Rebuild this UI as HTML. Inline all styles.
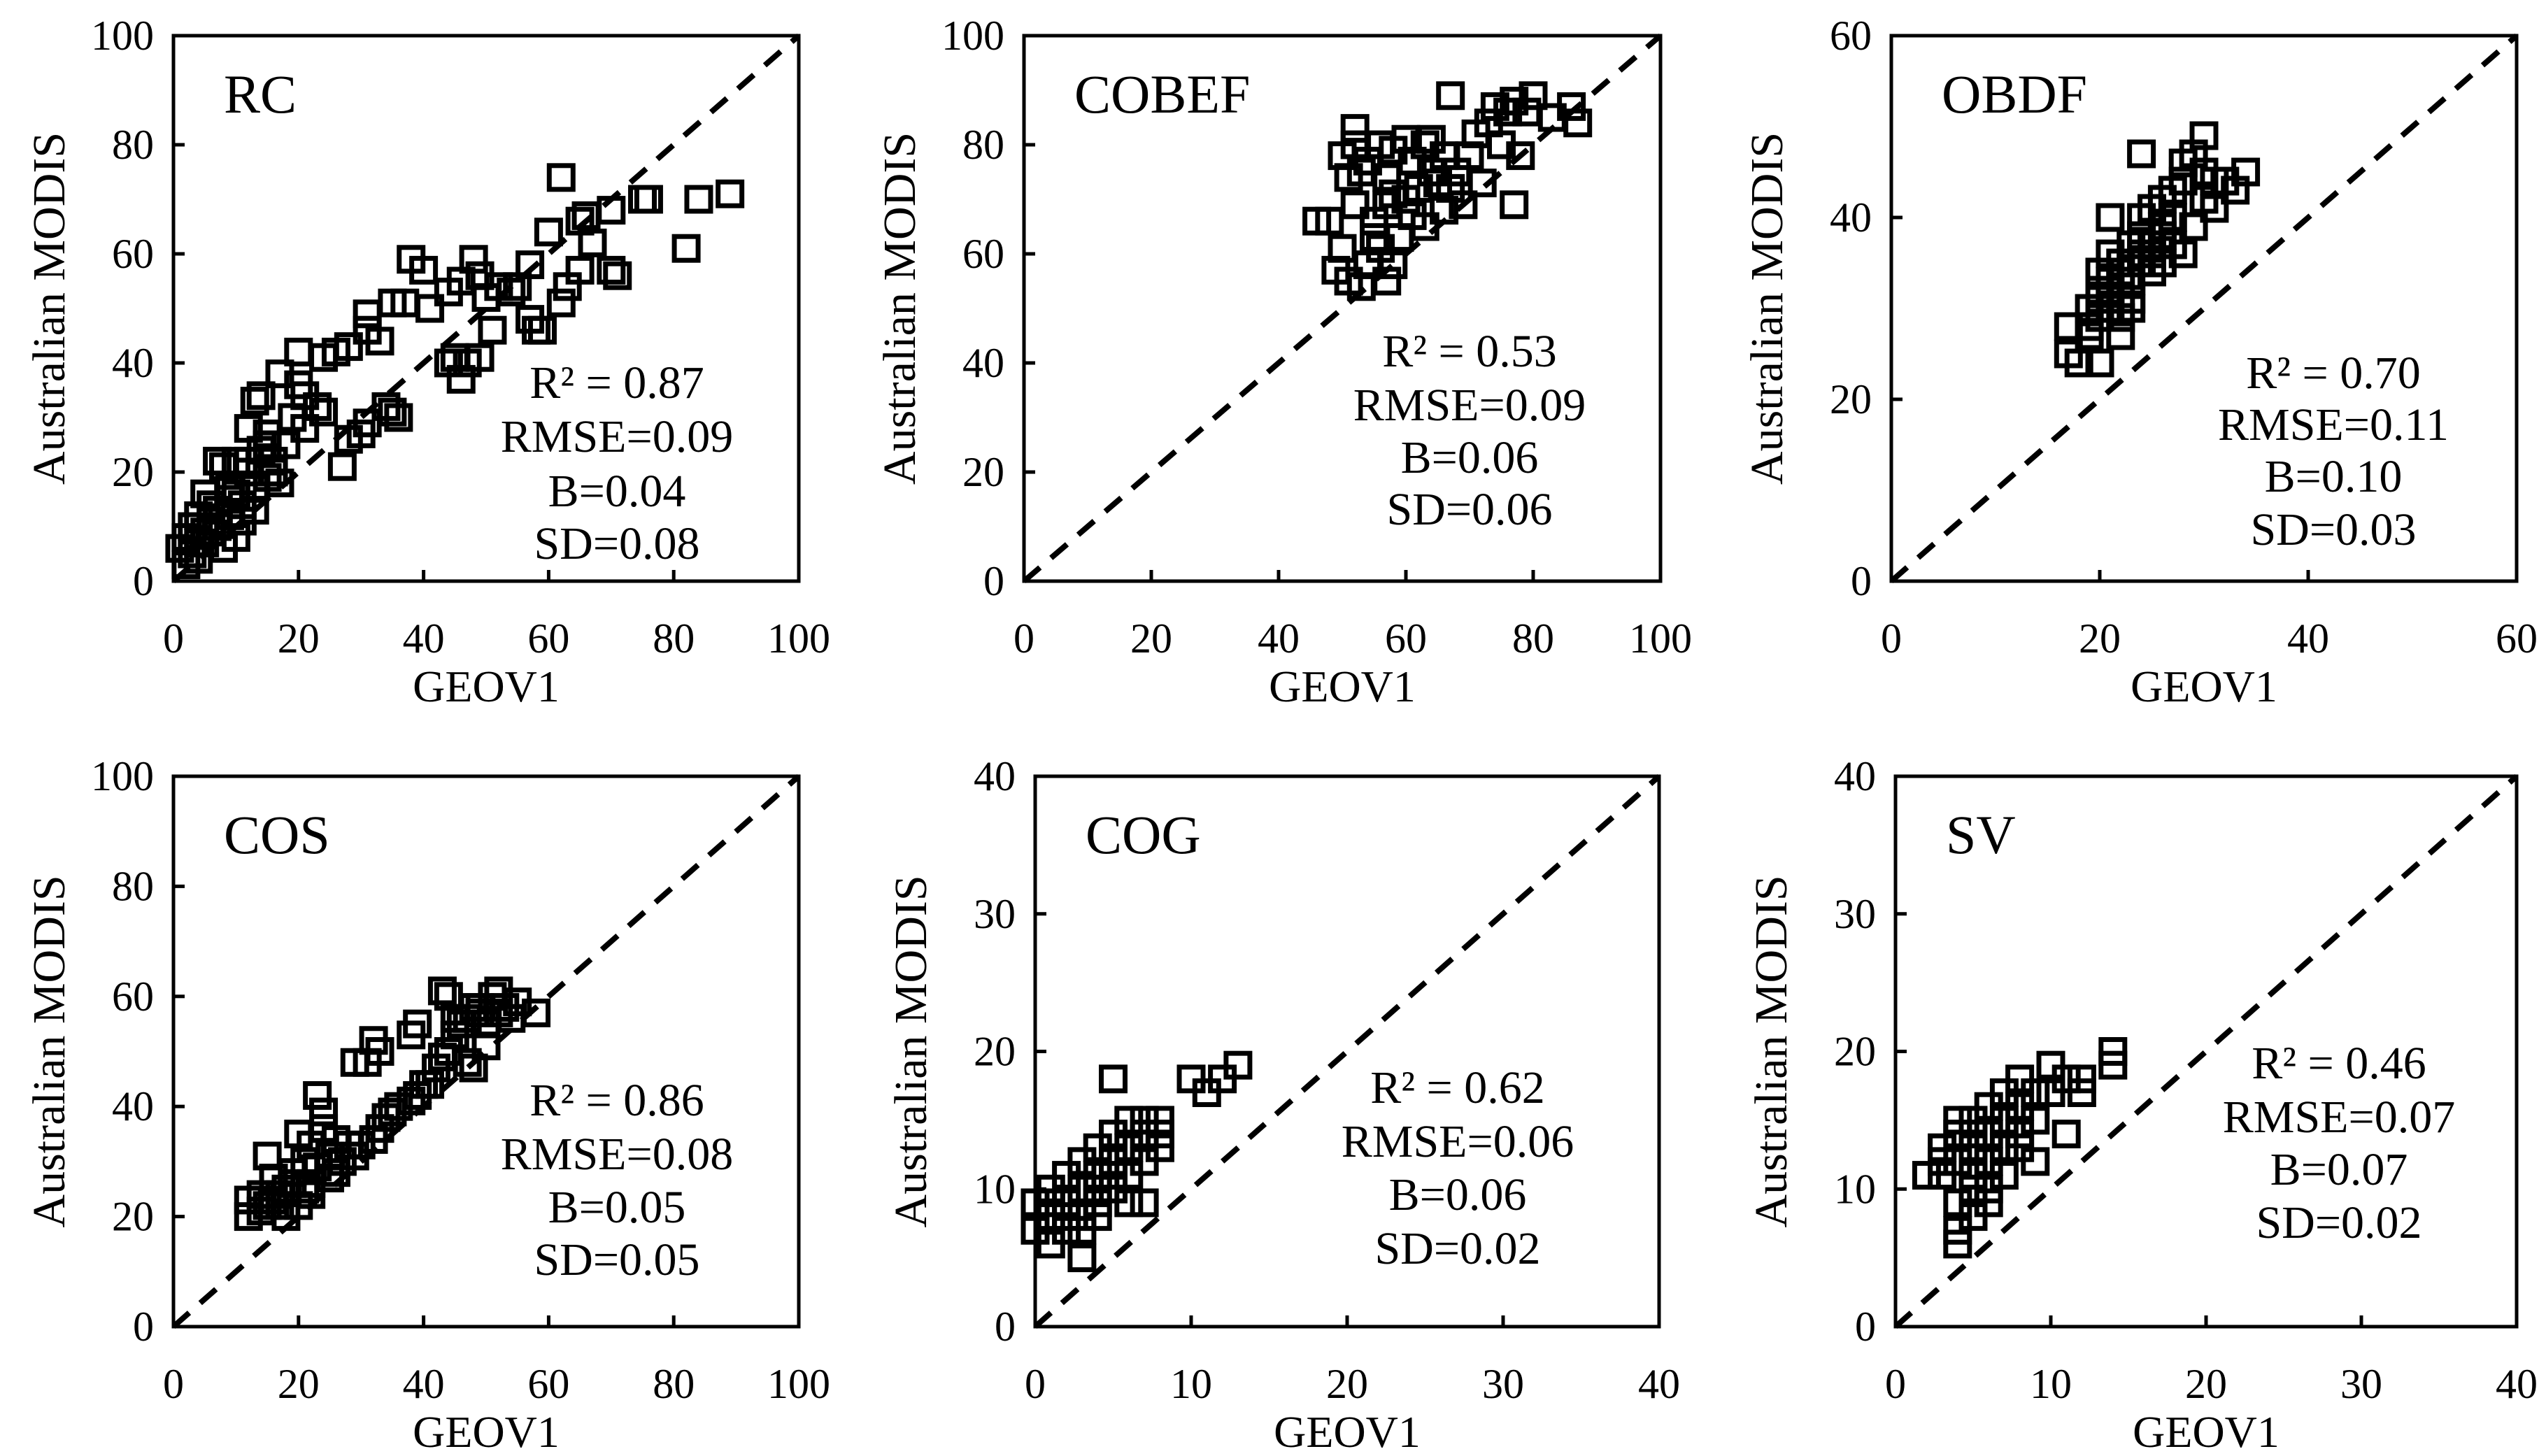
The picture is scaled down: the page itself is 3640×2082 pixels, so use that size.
<!DOCTYPE html>
<html><head><meta charset="utf-8"><style>
html,body{margin:0;padding:0;background:#fff;}
svg{display:block;}
svg text{font-family:"Liberation Serif","Times New Roman",serif;fill:#000;}
</style></head><body>
<svg id="fig" width="3640" height="2082" viewBox="0 0 3640 2082" font-family="Liberation Serif, serif" xmlns="http://www.w3.org/2000/svg"></svg>
<script>
// ---- data (GEOV1 x, Australian MODIS y) ----
const rcX=[62,66,65,67,70,75,76,84,89,82,60,57,48,38,40,44,46,49,52,55,35,37,41,31,31,33,26,28,20,24,17,20,21,23,24,19,21,14,13,12,15,10,12,8,7,9,5,6,4,3,2,1,3,5,7,9,11,13,15,17,10,8,6,4,2,13,11,16,18,27,28,30,31,34,35,36,44,45,46,47,49,51,57,58,59,62,65,70,71,63,54,50,14,12,10,9,7,6,5,4,16,15];
const rcY=[74,67,66,62,68,70,70,70,71,61,64,58,59,59,57,53,55,56,54,54,51,51,50,49,46,44,42,43,42,41,38,36,34,32,31,30,28,34,33,28,25,22,20,21,22,17,16,14,12,10,8,6,5,7,10,12,14,17,19,18,8,6,9,4,3,13,11,22,25,21,26,27,29,32,31,30,40,41,37,40,41,46,48,46,46,51,57,57,56,54,53,52,24,22,16,15,13,11,9,7,20,27];
const cobefX=[46,48,50,51,52,52,49,50,51,53,52,54,55,56,57,55,57,58,57,56,58,60,61,63,64,66,65,62,60,61,59,58,63,66,67,69,68,70,71,73,74,76,77,79,80,83,86,87,75,78,77,67,72,64,53,54];
const cobefY=[66,66,78,74,83,80,57,61,55,54,69,58,63,61,55,66,69,71,74,80,79,81,77,80,81,78,73,72,70,67,63,58,65,68,72,69,75,78,82,84,87,86,88,86,89,85,87,84,80,78,69,89,73,75,75,77];
const obdfX=[17,17,18,20,19,19,20,20,21,20,21,21,22,22,23,23,24,24,24,25,25,26,26,27,27,28,28,29,30,30,31,31,32,33,34,24,22,23,25,26,27,29,28,30,21,22,23,19,20,21,22,23,24,25,26];
const obdfY=[28,25,24,24,27,30,29,32,33,34,36,40,31,35,37,33,36,38,40,37,41,38,42,40,43,44,46,47,49,45,44,41,44,43,45,47,29,31,34,35,37,39,36,42,30,27,30,28,31,32,34,35,35,36,39];
const cosX=[12,12,14,15,15,16,17,18,18,19,20,21,22,22,23,24,24,25,26,27,28,29,30,32,33,34,35,36,38,39,40,41,42,43,44,45,46,47,48,49,50,51,52,53,54,55,58,44,43,38,39,32,33,31,29,47,48,50,20,22,25,16,21,26,14,17,19,23,45,49,52];
const cosY=[23,20,24,31,22,27,22,20,25,28,35,30,33,26,42,39,36,31,34,30,33,31,33,34,36,38,39,40,41,42,44,44,47,49,50,53,55,56,58,57,55,60,61,58,56,59,57,60,61,53,55,52,50,48,48,48,47,51,22,24,27,23,25,28,21,24,26,29,56,58,57];
const cogX=[0,0,1,1,1,2,2,2,3,3,3,3,4,4,4,4,5,5,5,5,6,6,6,7,7,7,7,8,8,8,10,11,12,13,6,2,1,3,4,5];
const cogY=[7,9,8,6,10,7,9,11,8,10,12,5,9,11,13,8,10,12,14,18,11,13,9,12,14,15,9,13,15,14,18,17,18,19,15,8,9,7,10,11];
const svX=[2,3,3,4,4,4,4,4,5,5,5,5,6,6,6,6,7,7,7,7,8,8,8,9,9,9,10,10,11,11,12,12,14,14,3,5,6,8,4,5];
const svY=[11,11,13,12,14,6,7,9,10,13,15,11,12,14,16,9,13,15,17,11,14,16,13,15,17,12,19,17,18,14,17,18,19,20,12,8,10,18,15,14];
const ticks100=[0,20,40,60,80,100];
const ticks60=[0,20,40,60];
const ticks40=[0,10,20,30,40];

const NS="http://www.w3.org/2000/svg";
const svg=document.getElementById('fig');
const FF='Liberation Serif, serif';
function mk(tag,attrs,parent){const e=document.createElementNS(NS,tag);for(const k in attrs)e.setAttribute(k,attrs[k]);if(tag==='text')e.setAttribute('font-family',FF);(parent||svg).appendChild(e);return e;}

const panels=[
 {name:'rc',label:'RC',x0:248,x1:1142,yt:51,yb:831,max:100,ticks:ticks100,xs:rcX,ys:rcY,sx:882,sy:[545,622,700,775],stats:['R² = 0.87','RMSE=0.09','B=0.04','SD=0.08']},
 {name:'cobef',label:'COBEF',x0:1464,x1:2374,yt:51,yb:831,max:100,ticks:ticks100,xs:cobefX,ys:cobefY,sx:2101,sy:[500,577,652,726],stats:['R² = 0.53','RMSE=0.09','B=0.06','SD=0.06']},
 {name:'obdf',label:'OBDF',x0:2704,x1:3598,yt:51,yb:831,max:60,ticks:ticks60,xs:obdfX,ys:obdfY,sx:3336,sy:[531,605,679,755],stats:['R² = 0.70','RMSE=0.11','B=0.10','SD=0.03']},
 {name:'cos',label:'COS',x0:248,x1:1142,yt:1110,yb:1897,max:100,ticks:ticks100,xs:cosX,ys:cosY,sx:882,sy:[1571,1648,1724,1799],stats:['R² = 0.86','RMSE=0.08','B=0.05','SD=0.05']},
 {name:'cog',label:'COG',x0:1480,x1:2372,yt:1110,yb:1897,max:40,ticks:ticks40,xs:cogX,ys:cogY,sx:2084,sy:[1553,1630,1706,1783],stats:['R² = 0.62','RMSE=0.06','B=0.06','SD=0.02']},
 {name:'sv',label:'SV',x0:2710,x1:3598,yt:1110,yb:1897,max:40,ticks:ticks40,xs:svX,ys:svY,sx:3344,sy:[1518,1595,1670,1746],stats:['R² = 0.46','RMSE=0.07','B=0.07','SD=0.02']}
];

panels.forEach(p=>{
  const g=mk('g',{});
  
  
  const X=v=>p.x0+(v/p.max)*(p.x1-p.x0);
  const Y=v=>p.yb-(v/p.max)*(p.yb-p.yt);
  const d=mk('line',{x1:X(0),y1:Y(0),x2:X(p.max),y2:Y(p.max),stroke:'#000','stroke-width':8,'stroke-dasharray':'30 21'},g);
  
  
  for(let i=0;i<p.xs.length;i++){
    const s=34;
    const r=mk('rect',{x:X(p.xs[i])-s/2,y:Y(p.ys[i])-s/2,width:s,height:s,fill:'none',stroke:'#000','stroke-width':7},g);
    
    
  }
  const b=mk('rect',{x:p.x0,y:p.yt,width:p.x1-p.x0,height:p.yb-p.yt,fill:'none',stroke:'#000','stroke-width':5},g);
  
  
  p.ticks.forEach(t=>{
    mk('line',{x1:X(t),y1:p.yb,x2:X(t),y2:p.yb-16,stroke:'#000','stroke-width':5},g);
    mk('line',{x1:p.x0,y1:Y(t),x2:p.x0+16,y2:Y(t),stroke:'#000','stroke-width':5},g);
    const xt=mk('text',{x:X(t),y:p.yb+102,'font-size':60,'text-anchor':'middle'},g);
    xt.textContent=t;
    
    
    const yt=mk('text',{x:p.x0-28,y:Y(t)+20,'font-size':60,'text-anchor':'end'},g);
    yt.textContent=t;
    
    
  });
  const xtitle=mk('text',{x:(p.x0+p.x1)/2,y:p.yb+172,'font-size':64,'text-anchor':'middle'},g);
  xtitle.textContent='GEOV1';
  
  
  const cy=(p.yt+p.yb)/2;
  const tx=p.x0-178;
  const ytitle=mk('text',{x:tx,y:cy,'font-size':66,'text-anchor':'middle',transform:'rotate(-90 '+tx+' '+cy+')'},g);
  ytitle.setAttribute('dy','22');
  ytitle.textContent='Australian MODIS';
  
  
  const lab=mk('text',{x:p.x0+72,y:p.yt+110,'font-size':78},g);
  lab.textContent=p.label;
  
  
  p.stats.forEach((s,i)=>{
    const t=mk('text',{x:p.sx,y:p.sy[i]+24,'font-size':66,'text-anchor':'middle'},g);
    t.textContent=s;
    
    
  });
});
</script>
</body></html>
